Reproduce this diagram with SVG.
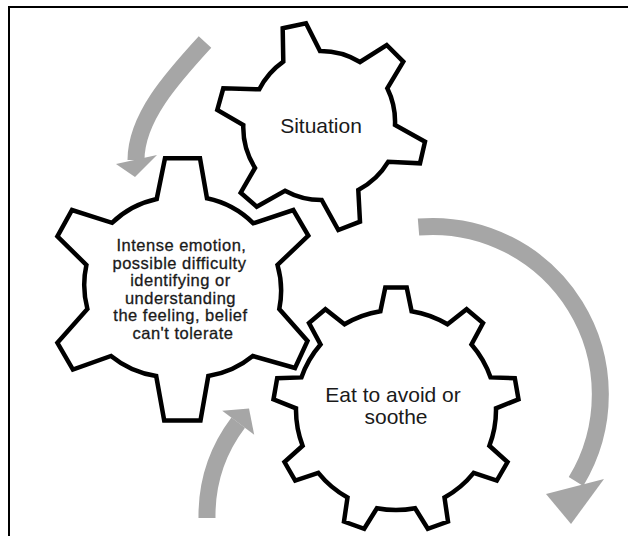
<svg xmlns="http://www.w3.org/2000/svg" width="628" height="536" viewBox="0 0 628 536">
<style>
.gear{fill:#fff;stroke:#000;stroke-width:4.5;stroke-linejoin:miter}
.body{fill:none;stroke:#a6a6a6;stroke-width:17;stroke-linecap:butt}
.head{fill:#a6a6a6;stroke:none}
.t{font-family:"Liberation Sans",Arial,sans-serif;fill:#1a1a1a;text-anchor:middle}
</style>
<rect width="628" height="536" fill="#fff"/>
<path d="M9,536 V7 H628" fill="none" stroke="#000" stroke-width="2"/>
<g id="connectors">
<g id="arrow-top">
<path class="body" d="M205,42 C172,78 136,118 136,160"/>
<polygon class="head" points="116,164 157,155 135,177"/>
</g>
<g id="arrow-right">
<path class="body" d="M418.5,227 A168,168 0 0 1 576,481.5"/>
<polygon class="head" points="546,494 604,479 571,524"/>
</g>
<g id="arrow-bottom">
<path class="body" d="M207,518 A155,155 0 0 1 238.2,422.7"/>
<polygon class="head" points="222.2,410.7 249,408.5 254.2,434.7"/>
</g>
</g>
<g id="situation">
<path class="gear" d="M282.7,28.3 L306,23.3 L320,51 A76,76 0 0 1 360,62 L386.7,45 L403.3,61.7 L387.3,88.3 A76,76 0 0 1 395,125 L425,141.7 L420,163.3 L388.3,161.7 A76,76 0 0 1 358.3,190 L360,221.7 L338.3,230 L321.7,200 A76,76 0 0 1 285,190.7 L256.7,206.7 L240.7,192.7 L255,168 A76,76 0 0 1 243.3,125 L217.3,110 L223.3,88.3 L259.3,89.3 A76,76 0 0 1 283.3,61.7 Z"/>
<text class="t" x="321" y="133" font-size="21">Situation</text>
</g>
<g id="emotion">
<path class="gear" d="M165,158.3 L200,158.3 L207,198.3 A93,93 0 0 1 253.3,223.3 L293.3,210 L308.3,235.5 L277.5,265 A93,93 0 0 1 279.3,309 L307.5,341 L295,368 L252.8,356 A93,93 0 0 1 208.3,376 L200.5,420.5 L164.2,420.5 L156.2,376 A93,93 0 0 1 111,356 L72.9,369.6 L57.4,342.8 L87.4,309 A93,93 0 0 1 86.4,265 L57.4,236.3 L72,210 L112,222.8 A93,93 0 0 1 156.7,199 Z"/>
<text class="t" font-size="16.5" letter-spacing="0.5" stroke="#1a1a1a" stroke-width="0.3">
<tspan x="184" y="251">Intense emotion,</tspan>
<tspan x="182" y="268.5">possible difficulty</tspan>
<tspan x="183" y="286">identifying or</tspan>
<tspan x="183" y="303.5">understanding</tspan>
<tspan x="183" y="321">the feeling, belief</tspan>
<tspan x="183" y="338.5">can't tolerate</tspan>
</text>
</g>
<g id="eat">
<path class="gear" d="M380.4,311.2 L385.3,287.5 L406.7,287.5 L411.6,311.2 A100,100 0 0 1 447.5,324.3 L466.6,309.2 L483,323 L471.5,344.4 A100,100 0 0 1 490.6,377.4 L514.8,378.2 L518.5,399.3 L496,408.3 A100,100 0 0 1 489.4,445.8 L507.5,462 L496.8,480.6 L473.7,472.9 A100,100 0 0 1 444.5,497.5 L448,521.5 L427.8,528.8 L415.1,508.2 A100,100 0 0 1 376.9,508.2 L364.2,528.8 L344,521.5 L347.5,497.5 A100,100 0 0 1 318.3,472.9 L295.2,480.6 L284.5,462 L302.6,445.8 A100,100 0 0 1 296,408.3 L273.5,399.3 L277.2,378.2 L301.4,377.4 A100,100 0 0 1 320.5,344.4 L309,323 L325.4,309.2 L344.5,324.3 A100,100 0 0 1 380.4,311.2 Z"/>
<text class="t" font-size="21">
<tspan x="396" y="401.5">Eat to avoid or</tspan>
<tspan x="396" y="423.5">soothe</tspan>
</text>
</g>
</svg>
